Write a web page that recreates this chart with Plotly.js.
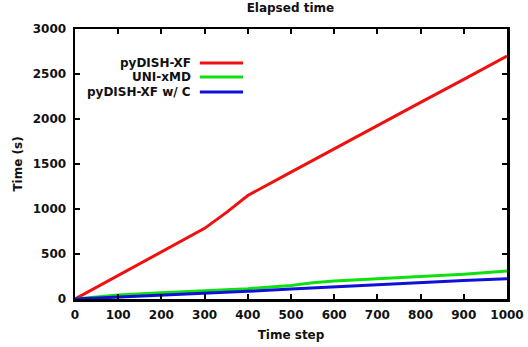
<!DOCTYPE html>
<html><head><meta charset="utf-8">
<script src="https://cdn.plot.ly/plotly-3.0.1.min.js"></script>
<style>html,body{margin:0;padding:0;background:#fff}#c{width:528px;height:347px}</style>
</head><body><div id="c"></div>
<script>
const steps = [0,100,200,300,350,400,500,600,700,800,900,1000];
const pydishXF = [0,262,523,785,960,1150,1410,1670,1925,2185,2440,2700];
const stepsG = [0,100,200,300,400,500,550,600,700,800,900,1000];
const uniXMD = [0,45,70,90,115,150,180,200,225,250,275,310];
const stepsB = [0,100,200,300,400,500,600,700,800,900,1000];
const pydishXFC = [0,20,40,60,85,110,135,160,185,205,225];
const names = ['pyDISH-XF','UNI-xMD','pyDISH-XF w/ C'];
const colors = ['#f01010','#10e010','#1010d8'];

const F = {family:'DejaVu Sans', size:12, color:'#111', weight:'bold'};
const traces = [
  {x:steps, y:pydishXF, name:names[0]},
  {x:stepsG, y:uniXMD, name:names[1]},
  {x:stepsB, y:pydishXFC, name:names[2]}
].map((t,i)=>Object.assign(t,{type:'scatter',mode:'lines',line:{color:colors[i],width:3},showlegend:false}));

const legY = [0.874,0.822,0.767];
const annotations = names.map((n,i)=>({xref:'paper',yref:'paper',x:0.272,y:legY[i],xanchor:'right',yanchor:'middle',text:n,showarrow:false,font:F}));
const shapes = names.map((n,i)=>({type:'line',xref:'paper',yref:'paper',x0:0.289,x1:0.389,y0:legY[i],y1:legY[i],line:{color:colors[i],width:3}}));

const ax = {showgrid:false,zeroline:false,showline:true,linecolor:'#000',linewidth:2.5,mirror:'allticks',ticks:'inside',ticklen:5,tickwidth:2,tickcolor:'#000',tickfont:F};
const layout = {
  width:528,height:347,
  margin:{l:75,r:21,t:29,b:48},
  paper_bgcolor:'#fff',plot_bgcolor:'#fff',
  title:{text:'Elapsed time',font:F,x:0.55,xanchor:'center',y:0.99,yanchor:'top'},
  xaxis:Object.assign({},ax,{range:[0,1000],dtick:100,tick0:0,ticklabelstandoff:3,title:{text:'Time step',font:F,standoff:10}}),
  yaxis:Object.assign({},ax,{range:[0,3000],dtick:500,tick0:0,ticklabelstandoff:4,title:{text:'Time (s)',font:F,standoff:8}}),
  annotations:annotations,shapes:shapes
};
Plotly.newPlot('c',traces,layout,{displayModeBar:false,staticPlot:true});
</script></body></html>
